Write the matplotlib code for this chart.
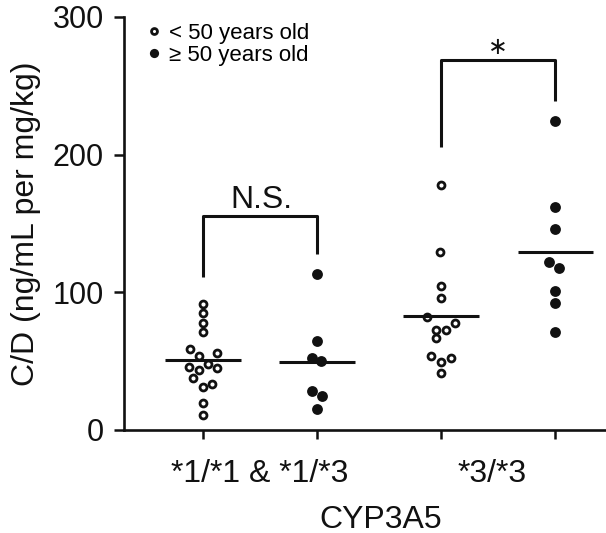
import matplotlib
matplotlib.use("Agg")
import matplotlib.pyplot as plt
import numpy as np

plt.rcParams["font.family"] = ["Liberation Sans", "DejaVu Sans"]

# group positions on the x axis and genotype labels
positions = [1, 2, 3.08, 4.08]
genotype_labels = ["*1/*1 & *1/*3", "*3/*3"]
genotype_pos = [1.5, 3.53]

# C/D values per group and horizontal scatter offsets
g1_vals = [91.1, 84.5, 77.7, 71.1, 58.5, 53.5, 55.4, 45.7, 43.3, 47.4, 44.9, 37.2, 30.7, 32.9, 19.5, 10.5]
g1_off = [0, 0, 0, 0, -0.114, -0.035, 0.122, -0.122, -0.035, 0.044, 0.122, -0.087, 0, 0.079, 0, 0]
g2_vals = [113.1, 64.4, 51.8, 49.8, 28.0, 24.6, 14.9]
g2_off = [0, 0, -0.044, 0.035, -0.044, 0.044, 0]
g3_vals = [177.8, 128.9, 104.6, 95.4, 82.0, 77.2, 72.4, 72.4, 66.3, 53.5, 49.3, 51.8, 40.9]
g3_off = [0, -0.009, 0, 0, -0.122, 0.122, -0.044, 0.044, -0.044, -0.087, 0, 0.087, 0]
g4_vals = [224.6, 161.6, 145.8, 122.0, 117.2, 100.9, 92.2, 70.7]
g4_off = [0, 0, 0, -0.052, 0.035, 0, 0, 0]

medians = [50.5, 49.3, 82.5, 129.3]

# significance brackets: left leg bottom, top, right leg bottom
ns_bracket = [110.7, 155.3, 127.4]
star_bracket = [205.7, 268.4, 239.1]

ink = "#111111"

fig = plt.figure(figsize=(6.06, 5.33), dpi=100)
ax = fig.add_axes([123.5 / 606, 103.5 / 533, 482.5 / 606, 412.5 / 533])

open_style = dict(ls="none", marker="o", ms=5.0, mew=2.0, mfc="white", mec=ink)
fill_style = dict(ls="none", marker="o", ms=7.8, mew=0, mfc=ink, mec=ink)

h_open, = ax.plot(positions[0] + np.array(g1_off), g1_vals, **open_style, clip_on=False)
h_fill, = ax.plot(positions[1] + np.array(g2_off), g2_vals, **fill_style, clip_on=False)
ax.plot(positions[2] + np.array(g3_off), g3_vals, **open_style, clip_on=False)
ax.plot(positions[3] + np.array(g4_off), g4_vals, **fill_style, clip_on=False)

for p, m in zip(positions, medians):
    ax.hlines(m, p - 0.33, p + 0.33, color=ink, lw=2.2)

# brackets
lb, top, rb = ns_bracket
ax.plot([positions[0], positions[0], positions[1], positions[1]], [lb, top, top, rb],
        color=ink, lw=2.2, solid_capstyle="butt")
ax.text((positions[0] + positions[1]) / 2 + 0.01, top + 5.5, "N.S.", ha="center",
        va="baseline", fontsize=23, color=ink)
lb, top, rb = star_bracket
ax.plot([positions[2], positions[2], positions[3], positions[3]], [lb, top, top, rb],
        color=ink, lw=2.2, solid_capstyle="butt")
ax.text((positions[2] + positions[3]) / 2, top + 10, "\u2217", ha="center", va="center",
        fontsize=17, color=ink, family="DejaVu Sans")

ax.set_ylim(0, 300)
ax.set_xlim(0.308, 4.522)
ax.set_yticks([0, 100, 200, 300])
ax.set_xticks(positions)
ax.set_xticklabels([])
ax.set_xticks(genotype_pos, minor=True)
ax.set_xticklabels(genotype_labels, minor=True)

ax.tick_params(axis="y", direction="out", length=7, width=1.8, pad=7, labelsize=22,
               colors=ink)
ax.tick_params(axis="x", which="major", direction="out", length=6.5, width=1.8, colors=ink)
ax.tick_params(axis="x", which="minor", length=0, pad=21, labelsize=23, colors=ink)

for s in ["top", "right"]:
    ax.spines[s].set_visible(False)
for s in ["left", "bottom"]:
    ax.spines[s].set_linewidth(1.9)
    ax.spines[s].set_color(ink)

ax.set_ylabel("C/D (ng/mL per mg/kg)", fontsize=23, color=ink)
ax.yaxis.set_label_coords(-0.172, 0.5)
ax.set_xlabel("CYP3A5", fontsize=23, color=ink)
ax.xaxis.set_label_coords(0.532, -0.182)

ax.legend([h_open, h_fill], ["< 50 years old", "\u2265 50 years old"],
          loc="upper left", bbox_to_anchor=(145 / 606, 1 - 23 / 533),
          bbox_transform=fig.transFigure, frameon=False, fontsize=16,
          handlelength=0.8, handletextpad=0.3, borderpad=0, labelspacing=0.05,
          markerscale=0.85, borderaxespad=0)

fig.savefig("out.png", dpi=100)
